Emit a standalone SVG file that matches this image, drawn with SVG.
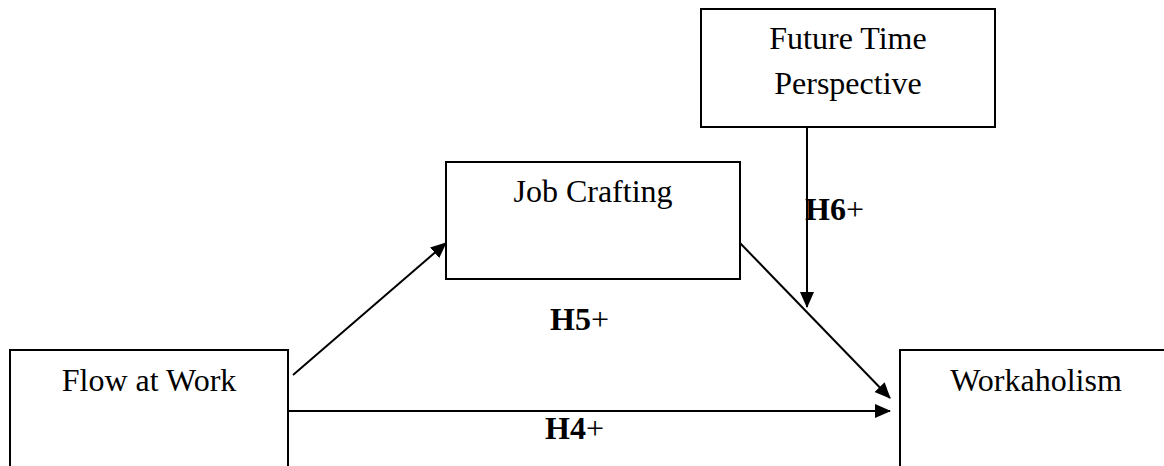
<svg xmlns="http://www.w3.org/2000/svg" width="1164" height="466" viewBox="0 0 1164 466">
<style>
.box{fill:#fff;stroke:#000;stroke-width:2}
.lbl{font-family:"Liberation Serif","Times New Roman",serif;font-size:32px;fill:#000;text-anchor:middle}
.h{font-family:"Liberation Serif","Times New Roman",serif;font-size:32px;fill:#000}
.b{font-weight:bold}
.con{stroke:#000;stroke-width:2;fill:none}
</style>
<defs>
<marker id="arr" markerUnits="userSpaceOnUse" markerWidth="16" markerHeight="16" viewBox="0 0 16 14" refX="15" refY="7" orient="auto">
<path d="M0,0 L16,7 L0,14 z" fill="#000"/>
</marker>
</defs>
<rect width="1164" height="466" fill="#fff"/>
<g id="node-flow">
<rect class="box" x="10" y="350" width="278" height="140"/>
<text class="lbl" x="149" y="391">Flow at Work</text>
</g>
<g id="node-job">
<rect class="box" x="446" y="162" width="294" height="117"/>
<text class="lbl" x="593" y="202">Job Crafting</text>
</g>
<g id="node-ftp">
<rect class="box" x="701" y="9" width="294" height="118"/>
<text class="lbl" x="848" y="49">Future Time</text>
<text class="lbl" x="848" y="94">Perspective</text>
</g>
<g id="node-work">
<rect class="box" x="900" y="350" width="280" height="140"/>
<text class="lbl" x="1036" y="391">Workaholism</text>
</g>
<g id="connectors">
<line class="con" x1="293" y1="375" x2="446" y2="243" marker-end="url(#arr)"/>
<line class="con" x1="740" y1="243" x2="890" y2="398" marker-end="url(#arr)"/>
<line class="con" x1="288" y1="411" x2="890" y2="411" marker-end="url(#arr)"/>
<line class="con" x1="807" y1="127" x2="807" y2="307" marker-end="url(#arr)"/>
</g>
<g id="labels">
<text class="h" x="805" y="220"><tspan class="b">H6</tspan>+</text>
<text class="h" x="550" y="330"><tspan class="b">H5</tspan>+</text>
<text class="h" x="545" y="439"><tspan class="b">H4</tspan>+</text>
</g>
</svg>
